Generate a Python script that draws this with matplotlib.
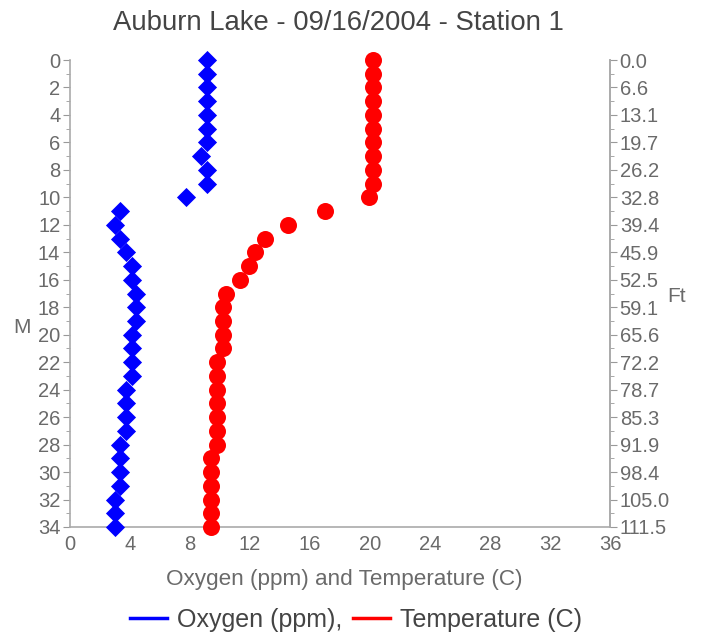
import matplotlib
matplotlib.use("Agg")
import matplotlib.pyplot as plt
from matplotlib.ticker import MultipleLocator
from matplotlib.lines import Line2D

plt.rcParams['font.family'] = ['Liberation Sans', 'DejaVu Sans']

depth_m = list(range(0, 35))
oxygen_ppm = [9.1, 9.1, 9.1, 9.1, 9.1, 9.1, 9.1, 8.7, 9.1, 9.1,
              7.7, 3.3, 3.0, 3.3, 3.7, 4.1, 4.1, 4.4, 4.4, 4.4,
              4.1, 4.1, 4.1, 4.1, 3.7, 3.7, 3.7, 3.7, 3.3, 3.3,
              3.3, 3.3, 3.0, 3.0, 3.0]
temperature_c = [20.2, 20.2, 20.2, 20.2, 20.2, 20.2, 20.2, 20.2, 20.2, 20.2,
                 19.9, 17.0, 14.5, 13.0, 12.3, 11.9, 11.3, 10.4, 10.2, 10.2,
                 10.2, 10.2, 9.8, 9.8, 9.8, 9.8, 9.8, 9.8, 9.8, 9.4,
                 9.4, 9.4, 9.4, 9.4, 9.4]
x_ticks = [0, 4, 8, 12, 16, 20, 24, 28, 32, 36]
m_ticks = list(range(0, 35, 2))
ft_labels = ["%.1f" % (m * 3.28084) for m in m_ticks]

title = "Auburn Lake - 09/16/2004 - Station 1"
gray = '#999999'
textgray = '#6a6a6a'
tick_fs = 14.5

fig = plt.figure(figsize=(7.08, 6.36), dpi=100)
ax = fig.add_axes([70/708, 1 - 527/636, 540/708, 467/636])

ax.scatter(oxygen_ppm, depth_m, marker='D', s=95, color='#0000ff', zorder=3, linewidths=0, clip_on=False)
ax.scatter(temperature_c, depth_m, marker='o', s=150, color='#ff0000', zorder=3, linewidths=0, clip_on=False)

ax.set_xlim(0, 36)
ax.set_ylim(34, 0)
ax.set_xticks(x_ticks)
ax.set_yticks(m_ticks)
ax.yaxis.set_minor_locator(MultipleLocator(1))
ax.tick_params(axis='x', length=0, labelsize=tick_fs, labelcolor=textgray, pad=6)
ax.tick_params(axis='y', which='major', length=5, color=gray, labelsize=tick_fs, labelcolor=textgray, pad=2)
ax.tick_params(axis='y', which='minor', length=3, color=gray)
ax.spines['top'].set_visible(False)
for s in ['left', 'bottom', 'right']:
    ax.spines[s].set_color('#aaaaaa')
    ax.spines[s].set_linewidth(1.2)

ax2 = ax.twinx()
ax2.set_ylim(34, 0)
ax2.set_yticks(m_ticks)
ax2.set_yticklabels(ft_labels)
ax2.yaxis.set_minor_locator(MultipleLocator(1))
ax2.tick_params(axis='y', which='major', length=5, color=gray, labelsize=tick_fs, labelcolor=textgray, pad=2)
ax2.tick_params(axis='y', which='minor', length=3, color=gray)
for s in ['top', 'left', 'bottom']:
    ax2.spines[s].set_visible(False)
ax2.spines['right'].set_color('#aaaaaa')
ax2.spines['right'].set_linewidth(1.2)

fig.text(22/708, 1 - 327/636, 'M', ha='center', va='center', fontsize=15, color=textgray)
fig.text(677/708, 1 - 296/636, 'Ft', ha='center', va='center', fontsize=15, color=textgray)
fig.text(344/708, 1 - 580/636, 'Oxygen (ppm) and Temperature (C)', ha='center', va='center',
         fontsize=16.2, color=textgray)
fig.text(338/708, 1 - 23/636, title, ha='center', va='center', fontsize=19.8, color='#444444')

handles = [Line2D([0], [0], color='#0000ff', lw=2.5), Line2D([0], [0], color='#ff0000', lw=2.5)]
fig.legend(handles, ['Oxygen (ppm),', 'Temperature (C)'], loc='center', ncol=2,
           bbox_to_anchor=(356/708, 1 - 620/636), frameon=False, fontsize=18,
           handlelength=1.5, handletextpad=0.4, columnspacing=0.4, labelcolor='#444444')

fig.savefig('out.png', dpi=100)
